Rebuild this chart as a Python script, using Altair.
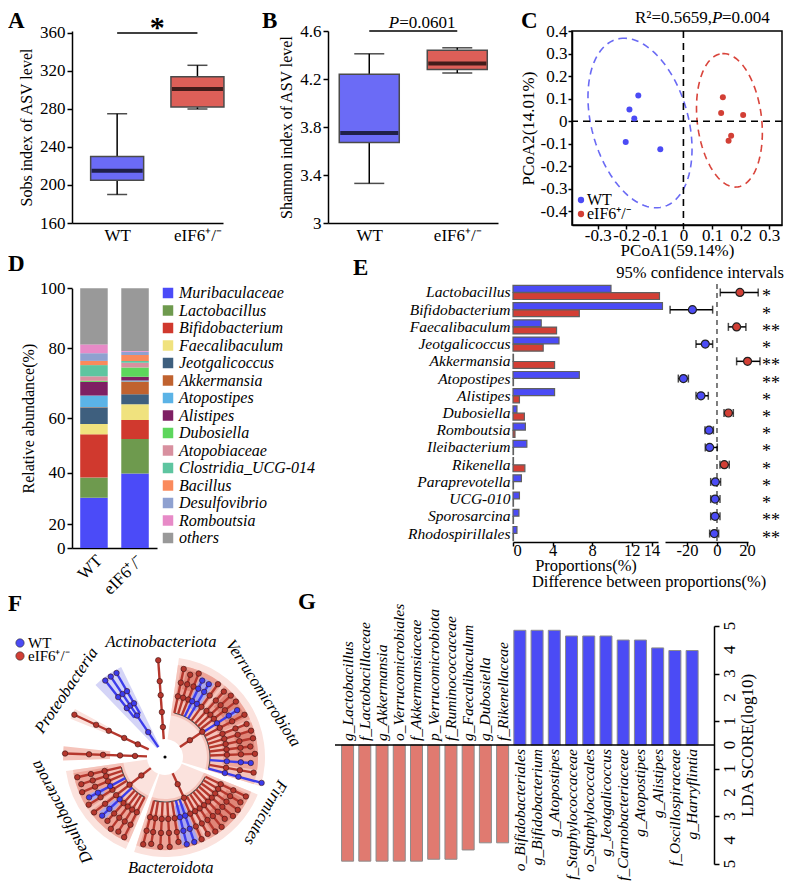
import math
import altair as alt
import numpy as np
import pandas as pd

FONT = "Liberation Serif"
KO = "eIF6\u207a/\u207b"

# ======================= DATA =======================
groups = ["WT", KO]

# A  Sobs index (box summaries)
sobs_lo = [190, 280]
sobs_q1 = [205, 282]
sobs_med = [215, 301]
sobs_q3 = [230, 314]
sobs_hi = [275, 326]

# B  Shannon index (box summaries)
shan_lo = [3.33, 4.25]
shan_q1 = [3.67, 4.28]
shan_med = [3.75, 4.33]
shan_q3 = [4.24, 4.44]
shan_hi = [4.41, 4.46]

# C  PCoA
pc_wt_x = [-0.158, -0.189, -0.172, -0.202, -0.081]
pc_wt_y = [0.114, 0.052, 0.012, -0.092, -0.124]
pc_ko_x = [0.138, 0.132, 0.209, 0.167, 0.158]
pc_ko_y = [0.106, 0.037, 0.028, -0.064, -0.086]
ell_group = ["WT", "eIF6"]
ell_cx = [-0.152, 0.161]
ell_cy = [-0.008, 0.004]
ell_a = [0.381, 0.297]
ell_b = [0.171, 0.113]
ell_ux = [-0.184, -0.084]
ell_uy = [0.983, 0.996]

# D  relative abundance
taxa = ["Muribaculaceae", "Lactobacillus", "Bifidobacterium", "Faecalibaculum",
        "Jeotgalicoccus", "Akkermansia", "Atopostipes", "Alistipes", "Dubosiella",
        "Atopobiaceae", "Clostridia_UCG-014", "Bacillus", "Desulfovibrio",
        "Romboutsia", "others"]
abund_wt = [30.3, 7.8, 16.0, 3.8, 5.2, 0.1, 3.3, 3.9, 0.3, 1.3, 3.2, 1.2, 2.2, 2.7, 18.7]
abund_ko = [39.7, 12.7, 7.0, 4.6, 2.9, 3.6, 0.3, 1.1, 2.6, 1.4, 0.5, 1.7, 0.9, 0.2, 20.8]

# E  extended error bar
e_taxa = ["Lactobacillus", "Bifidobacterium", "Faecalibaculum", "Jeotgalicoccus",
          "Akkermansia", "Atopostipes", "Alistipes", "Dubosiella", "Romboutsia",
          "Ileibacterium", "Rikenella", "Paraprevotella", "UCG-010", "Sporosarcina",
          "Rhodospirillales"]
prop_wt = [9.9, 15.1, 2.85, 4.65, 0.05, 6.7, 4.2, 0.4, 1.25, 1.4, 0.05, 0.85, 0.65, 0.6, 0.4]
prop_ko = [14.8, 6.7, 4.4, 3.05, 4.2, 0.05, 0.65, 1.15, 0.2, 0.05, 1.2, 0.05, 0.05, 0.05, 0.05]
diff_mean = [15.3, -16.4, 13.1, -7.8, 20.4, -22.4, -10.7, 7.6, -5.3, -4.9, 4.9, -1.1, -1.3, -1.3, -1.8]
diff_lo = [2.2, -31.3, 7.6, -14.0, 13.1, -25.8, -14.0, 4.7, -8.0, -7.8, 2.0, -4.2, -4.2, -4.2, -4.9]
diff_hi = [27.5, -2.9, 19.3, -2.9, 28.7, -19.1, -5.8, 10.9, -2.4, 0.2, 8.2, 2.4, 2.0, 2.0, 1.1]
diff_sig = ["*", "*", "**", "*", "**", "**", "*", "*", "*", "*", "*", "*", "*", "**", "**"]
diff_group = ["eIF6", "WT", "eIF6", "WT", "eIF6", "WT", "WT", "eIF6", "WT", "WT",
              "eIF6", "WT", "WT", "WT", "WT"]

# G  LEfSe LDA scores
lda_ko_names = ["g_Lactobacillus", "f_Lactobacillaceae", "g_Akkermansia",
                "o_Verrucomicrobiales", "f_Akkermansiaceae", "p_Verrucomicrobiota",
                "f_Ruminococcaceae", "g_Faecalibaculum", "g_Dubosiella", "f_Rikenellaceae"]
lda_ko = [4.88, 4.88, 4.88, 4.88, 4.88, 4.80, 4.80, 4.41, 4.11, 4.11]
lda_wt_names = ["o_Bifidobacteriales", "g_Bifidobacterium", "g_Atopostipes",
                "f_Staphylococcaceae", "o_Staphylococcales", "g_Jeotgalicoccus",
                "f_Carnobacteriaceae", "g_Atopostipes", "g_Alistipes",
                "f_Oscillospiraceae", "g_Harryflintia"]
lda_wt = [4.82, 4.82, 4.82, 4.58, 4.58, 4.58, 4.41, 4.41, 4.08, 3.97, 3.97]
lda_ticks = [-5, -4, -3, -2, -1, 0, 1, 2, 3, 4, 5]

# F  cladogram (angles clockwise from top, radii as fraction of outer ring)
blk_t0 = [8, 8, 10, 40, 68, 14, 44, 72, 24, 55,
          112, 112, 114, 154, 118, 158,
          203, 203, 205, 236, 224, 239,
          268, 292, 316]
blk_t1 = [107, 107, 38, 66, 98, 22, 64, 88, 34, 59,
          198, 198, 152, 196, 148, 169,
          262, 262, 234, 260, 230, 244,
          276, 298, 334]
blk_r0 = [0.18, 0.42, 0.58, 0.58, 0.58, 0.70, 0.70, 0.72, 0.55, 0.72,
          0.18, 0.42, 0.58, 0.58, 0.70, 0.50,
          0.18, 0.42, 0.58, 0.58, 0.66, 0.70,
          0.55, 0.62, 0.12]
blk_r1 = [1.0, 0.93, 0.93, 0.93, 0.93, 0.90, 0.90, 0.90, 0.88, 0.86,
          1.0, 0.93, 0.93, 0.93, 0.90, 0.90,
          1.0, 0.93, 0.93, 0.93, 0.86, 0.86,
          1.02, 1.02, 1.0]
blk_shade = ["r0", "r1", "r2", "r2", "r2", "r3", "r3", "r3", "b1", "b1",
             "r0", "r1", "r2", "r2", "r3", "b1",
             "r0", "r1", "r2", "r2", "b1", "b1",
             "r1", "r0", "b0"]

leaf_theta = [12, 17, 22, 26, 31, 36, 42, 47, 52, 57, 62, 68, 73, 78, 83, 88, 94, 100, 105,
              116, 121, 126, 131, 136, 141, 146, 151, 156, 161, 166, 171, 177, 183, 189, 194,
              207, 212, 217, 222, 227, 232, 238, 242, 247, 252, 257,
              272, 295, 322, 326, 330, 356]
leaf_r0 = [0.45, 0.45, 0.45, 0.45, 0.45, 0.45, 0.45, 0.45, 0.45, 0.45, 0.45, 0.45, 0.45, 0.45, 0.45, 0.45, 0.45, 0.45, 0.45,
           0.45, 0.45, 0.45, 0.45, 0.45, 0.45, 0.45, 0.45, 0.45, 0.45, 0.45, 0.45, 0.45, 0.45, 0.45, 0.45,
           0.45, 0.45, 0.45, 0.45, 0.45, 0.45, 0.45, 0.45, 0.45, 0.45, 0.45,
           0.18, 0.18, 0.50, 0.50, 0.50, 0.18]
leaf_r1 = [0.90, 0.86, 0.90, 0.85, 0.85, 0.90, 0.88, 0.90, 0.90, 0.86, 0.90, 0.88, 0.90, 0.90, 0.86, 0.90, 0.86, 0.90, 1.0,
           0.90, 0.88, 0.90, 0.90, 0.86, 0.90, 0.90, 0.88, 0.90, 0.90, 0.90, 0.86, 0.90, 0.90, 0.88, 0.90,
           0.90, 0.88, 0.90, 0.86, 0.86, 0.90, 0.90, 0.86, 0.90, 0.88, 0.90,
           1.0, 1.0, 0.97, 0.97, 0.97, 0.97]
leaf_group = ["K", "K", "K", "W", "W", "K", "K", "K", "K", "W", "K", "K", "K", "K", "K", "K", "W", "K", "W",
              "K", "K", "K", "K", "K", "K", "K", "K", "K", "W", "W", "K", "K", "K", "K", "K",
              "K", "K", "K", "K", "W", "K", "K", "W", "K", "K", "K",
              "K", "K", "W", "W", "W", "K"]
stem_theta = [56, 155, 232, 326]
stem_r0 = [0.18, 0.18, 0.18, 0.12]
stem_r1 = [0.45, 0.45, 0.45, 0.50]
stem_group = ["K", "K", "K", "W"]
conn_t0 = [12, 116, 207, 322]
conn_t1 = [105, 194, 257, 330]
conn_r = [0.45, 0.45, 0.45, 0.50]
node_levels = [0.30, 0.45, 0.62, 0.76]

ph_names = ["Actinobacteriota", "Verrucomicrobiota", "Firmicutes", "Bacteroidota",
            "Desulfobacterota", "Proteobacteria"]
ph_theta = [358, 57, 119, 177, 242, 304]
ph_r = [1.15, 1.17, 1.15, 1.11, 1.17, 1.19]
ph_rot = [0, 57, 119, 0, 242, 304]

# ======================= STYLE =======================
BLUE = "#4B4BF5"
RED = "#D23F35"
GROUP_COL = {"WT": BLUE, "eIF6": RED}
BOX_COL = {"WT": "#6B6BF6", "eIF6": "#DD5F58"}
ELL_COL = {"WT": "#6A6AF4", "eIF6": "#D9443B"}
TAXA_COL = ["#4B4BF8", "#6E9A4E", "#D0392E", "#F0E27E", "#3E5F7E", "#C0622F",
            "#5BB3E6", "#7E1F63", "#5DD65C", "#D8909F", "#5EC5A0", "#FA8A5C",
            "#8FA1D0", "#E78AC7", "#999999"]
SHADES = {"r0": "#FBE2DD", "r1": "#F5C4BB", "r2": "#EDA498", "r3": "#E08678",
          "b0": "#D4D4F7", "b1": "#ABA6EC"}
LINE_COL = {"K": "#B5372D", "W": "#3C3CEB"}


def letter(ch, x, y):
    return alt.Chart(pd.DataFrame({"t": [ch]})).mark_text(
        font=FONT, fontSize=23, fontWeight="bold", align="left", baseline="top", color="black"
    ).encode(text="t:N", x=alt.value(x), y=alt.value(y))


def anchor(y):
    # invisible point that fixes the vertical extent of a row
    return alt.Chart(pd.DataFrame({"a": [0]})).mark_point(opacity=0, size=1, strokeWidth=0).encode(
        x=alt.value(0), y=alt.value(y))


def minus_fix(fmt):
    return "replace(format(datum.value, '" + fmt + "'), '\u2212', '-')"


def spacer(w):
    return alt.Chart(pd.DataFrame({"a": [0]})).mark_point(opacity=0, size=1, strokeWidth=0).encode(
        x=alt.value(0), y=alt.value(0)).properties(width=w, height=1)


# ======================= A & B =======================
def box_panel(lo, q1, med, q3, hi, xdom, ydom, yvals, yfmt, ytitle, boxw, capw):
    df = pd.DataFrame({"i": [0, 1], "lo": lo, "q1": q1, "med": med, "q3": q3, "hi": hi})
    df["fill"] = [BOX_COL["WT"], BOX_COL["eIF6"]]
    xs = alt.Scale(domain=xdom, nice=False, zero=False)
    ys = alt.Scale(domain=ydom, nice=False, zero=False)
    xax = alt.Axis(values=[0, 1], labelExpr="datum.value == 0 ? 'WT' : '" + KO + "'",
                   title=None, ticks=False, labelFontSize=17, labelPadding=4)
    yax = alt.Axis(values=yvals, format=yfmt, title=ytitle, labelFontSize=17,
                   labelPadding=2, titlePadding=5, titleFontSize=16)

    def X(f):
        return alt.X(f, type="quantitative", scale=xs, axis=xax)

    def Y(f):
        return alt.Y(f, type="quantitative", scale=ys, axis=yax)

    base = alt.Chart(df)
    whisk = base.mark_rule(color="black", strokeWidth=1.5).encode(x=X("i"), y=Y("lo"), y2="hi:Q")
    cap_lo = base.mark_tick(orient="horizontal", color="black", thickness=1.5, size=capw).encode(x=X("i"), y=Y("lo"))
    cap_hi = base.mark_tick(orient="horizontal", color="black", thickness=1.5, size=capw).encode(x=X("i"), y=Y("hi"))
    box = base.mark_bar(size=boxw, stroke="#4a4a4a", strokeWidth=1.5).encode(
        x=X("i"), y=Y("q1"), y2="q3:Q", color=alt.Color("fill:N", scale=None))
    medl = base.mark_tick(orient="horizontal", color="black", thickness=4, size=boxw - 2).encode(x=X("i"), y=Y("med"))
    return [whisk, cap_lo, cap_hi, box, medl], X, Y


layersA, XA, YA = box_panel(sobs_lo, sobs_q1, sobs_med, sobs_q3, sobs_hi,
                            [-0.5, 1.256], [160, 362.1], [160, 200, 240, 280, 320, 360], "d",
                            "Sobs index of ASV level", 53, 20)
sigA = pd.DataFrame({"x0": [0], "x1": [1], "xm": [0.5], "y": [360], "t": ["*"]})
sigA_rule = alt.Chart(sigA).mark_rule(color="black", strokeWidth=1.5).encode(x=XA("x0"), x2="x1:Q", y=YA("y"))
sigA_txt = alt.Chart(sigA).mark_text(fontSize=30, fontWeight="bold", baseline="alphabetic", dy=4).encode(
    x=XA("xm"), y=YA("y"), text="t:N")
panelA = alt.layer(*layersA, sigA_rule, sigA_txt, letter("A", -64, -21), anchor(250)).properties(
    width=151, height=192)

layersB, XB, YB = box_panel(shan_lo, shan_q1, shan_med, shan_q3, shan_hi,
                            [-0.412, 1.406], [3.0, 4.6], [3.0, 3.4, 3.8, 4.2, 4.6], "~g",
                            "Shannon index of ASV level", 60, 30)
sigB = pd.DataFrame({"x0": [0], "x1": [1], "xm": [0.5], "y": [4.6], "p": ["P"], "v": ["=0.0601"]})
sigB_rule = alt.Chart(sigB).mark_rule(color="black", strokeWidth=1.5).encode(x=XB("x0"), x2="x1:Q", y=YB("y"))
sigB_p = alt.Chart(sigB).mark_text(fontSize=17, fontStyle="italic", align="right", baseline="alphabetic",
                                   dx=-14, dy=-3).encode(x=XB("xm"), y=YB("y"), text="p:N")
sigB_v = alt.Chart(sigB).mark_text(fontSize=17, align="left", baseline="alphabetic",
                                   dx=-14, dy=-3).encode(x=XB("xm"), y=YB("y"), text="v:N")
panelB = alt.layer(*layersB, sigB_rule, sigB_p, sigB_v, letter("B", -66, -21)).properties(width=170, height=192)

# ======================= C =======================
pcdf = pd.DataFrame({"x": pc_wt_x + pc_ko_x, "y": pc_wt_y + pc_ko_y,
                     "g": ["WT"] * len(pc_wt_x) + ["eIF6"] * len(pc_ko_x)})
pcdf["col"] = pcdf["g"].map(GROUP_COL)
t_par = np.linspace(0, 2 * np.pi, 121)
ell_frames = []
for g, cx, cy, a, b, ux, uy in zip(ell_group, ell_cx, ell_cy, ell_a, ell_b, ell_ux, ell_uy):
    vx, vy = uy, -ux
    ell_frames.append(pd.DataFrame({
        "x": cx + a * np.cos(t_par) * ux + b * np.sin(t_par) * vx,
        "y": cy + a * np.cos(t_par) * uy + b * np.sin(t_par) * vy,
        "k": np.arange(len(t_par)), "g": g, "col": ELL_COL[g]}))
elldf = pd.concat(ell_frames, ignore_index=True)

cxs = alt.Scale(domain=[-0.39, 0.345], nice=False, zero=False)
cys = alt.Scale(domain=[-0.46, 0.40], nice=False, zero=False)
cxax = alt.Axis(values=[-0.3, -0.2, -0.1, 0, 0.1, 0.2, 0.3], labelExpr=minus_fix(".1~f"),
                title="PCoA1(59.14%)", labelFontSize=17, titleFontSize=17, tickSize=4,
                labelPadding=-2, titlePadding=-1)
cyax = alt.Axis(values=[-0.4, -0.3, -0.2, -0.1, 0, 0.1, 0.2, 0.3, 0.4], labelExpr=minus_fix(".1~f"),
                title="PCoA2(14.01%)", labelFontSize=17, titleFontSize=17, tickSize=4,
                labelPadding=1, titlePadding=3)
CX = alt.X("x:Q", scale=cxs, axis=cxax)
CY = alt.Y("y:Q", scale=cys, axis=cyax)
c_ell = alt.Chart(elldf).mark_line(strokeDash=[7, 5], strokeWidth=1.6).encode(
    x=CX, y=CY, detail="g:N", order="k:Q", color=alt.Color("col:N", scale=None))
c_v0 = alt.Chart(pd.DataFrame({"z": [0]})).mark_rule(color="black", strokeDash=[7, 5], strokeWidth=1.6).encode(
    x=alt.X("z:Q", scale=cxs, axis=cxax))
c_h0 = alt.Chart(pd.DataFrame({"z": [0]})).mark_rule(color="black", strokeDash=[7, 5], strokeWidth=1.6).encode(
    y=alt.Y("z:Q", scale=cys, axis=cyax))
c_pts = alt.Chart(pcdf).mark_circle(size=36, opacity=1).encode(x=CX, y=CY, color=alt.Color("col:N", scale=None))
leg_c = pd.DataFrame({"lab": ["WT", KO], "col": [BLUE, RED], "py": [169, 183]})
c_leg_pt = alt.Chart(leg_c).mark_circle(size=40, opacity=1).encode(
    x=alt.value(9), y=alt.Y("py:Q", scale=None), color=alt.Color("col:N", scale=None))
c_leg_tx = alt.Chart(leg_c).mark_text(fontSize=16, align="left", baseline="middle").encode(
    x=alt.value(15), y=alt.Y("py:Q", scale=None), text="lab:N")
c_t1 = alt.Chart(pd.DataFrame({"t": ["R\u00b2=0.5659, "]})).mark_text(
    fontSize=17, align="right", baseline="alphabetic").encode(x=alt.value(140), y=alt.value(-8), text="t:N")
c_t2 = alt.Chart(pd.DataFrame({"t": ["P"]})).mark_text(
    fontSize=17, fontStyle="italic", align="left", baseline="alphabetic").encode(x=alt.value(140), y=alt.value(-8), text="t:N")
c_t3 = alt.Chart(pd.DataFrame({"t": ["=0.004"]})).mark_text(
    fontSize=17, align="left", baseline="alphabetic").encode(x=alt.value(150), y=alt.value(-8), text="t:N")
panelC = alt.layer(c_ell, c_v0, c_h0, c_pts, c_leg_pt, c_leg_tx, c_t1, c_t2, c_t3, letter("C", -51, -21)).properties(
    width=210, height=194, view=alt.ViewBackground(stroke="black", strokeWidth=1.5))

# ======================= D =======================
d_rows = []
for s, vals in ((groups[0], abund_wt), (groups[1], abund_ko)):
    for k, (tx, v) in enumerate(zip(taxa, vals)):
        d_rows.append({"sample": s, "taxon": tx, "k": k, "v": v})
ddf = pd.DataFrame(d_rows)
d_bars = alt.Chart(ddf).mark_bar().encode(
    x=alt.X("sample:N", sort=groups, scale=alt.Scale(domain=groups, paddingInner=0.33, paddingOuter=0.2),
            axis=alt.Axis(title=None, labelAngle=315, ticks=False, labelFontSize=17, labelPadding=4)),
    y=alt.Y("v:Q", stack="zero",
            scale=alt.Scale(domain=[0, 20, 40, 60, 80, 100], range=[264, 240.3, 188.7, 134.3, 64.3, 4.3],
                            nice=False, zero=False),
            axis=alt.Axis(values=[0, 20, 40, 60, 80, 100], title="Relative abundance(%)", labelFontSize=17,
                          labelPadding=2, titlePadding=3, titleFontSize=16)),
    color=alt.Color("taxon:N", sort=taxa, scale=alt.Scale(domain=taxa, range=TAXA_COL),
                    legend=alt.Legend(title=None, orient="none", legendX=88, legendY=1, symbolType="square",
                                      symbolSize=110, symbolStrokeWidth=0, labelFont=FONT,
                                      labelFontStyle="italic", labelFontSize=16, labelOffset=3,
                                      rowPadding=1.5, padding=0, labelLimit=220, labelColor="black")),
    order=alt.Order("k:Q", sort="ascending"),
)
panelD = alt.layer(d_bars, letter("D", -64, -31), anchor(-40), anchor(320)).properties(width=85, height=264)

# ======================= E =======================
e_rows = []
for tx, w, k in zip(e_taxa, prop_wt, prop_ko):
    e_rows.append({"taxon": tx, "grp": "WT", "v": w})
    e_rows.append({"taxon": tx, "grp": "eIF6", "v": k})
edf = pd.DataFrame(e_rows)
edf["col"] = edf["grp"].map(GROUP_COL)
e_yscale = alt.Scale(domain=e_taxa, paddingInner=0.18, paddingOuter=0.08)
e_bars = alt.Chart(edf).mark_bar(stroke="#606060", strokeWidth=1.2).encode(
    y=alt.Y("taxon:N", sort=e_taxa, scale=e_yscale,
            axis=alt.Axis(title=None, ticks=False, domain=False, labelFontStyle="italic",
                          labelFontSize=15.5, labelPadding=3, labelLimit=220)),
    yOffset=alt.YOffset("grp:N", sort=["WT", "eIF6"], scale=alt.Scale(domain=["WT", "eIF6"], paddingInner=0.05)),
    x=alt.X("v:Q", scale=alt.Scale(domain=[0, 14.65], nice=False, zero=False),
            axis=alt.Axis(values=[0, 4, 8, 12, 14], title="Proportions(%)", labelFontSize=16.5,
                          titleFontSize=16.5, labelPadding=-4, titlePadding=-1, tickSize=4)),
    color=alt.Color("col:N", scale=None),
)
panelE1 = alt.layer(e_bars, letter("E", -160, -27)).properties(width=145, height=258)

cidf = pd.DataFrame({"taxon": e_taxa, "m": diff_mean, "lo": diff_lo, "hi": diff_hi,
                     "sig": diff_sig, "g": diff_group})
cidf["col"] = cidf["g"].map(GROUP_COL)
ciY = alt.Y("taxon:N", sort=e_taxa, scale=e_yscale, axis=None)
ci_xs = alt.Scale(domain=[-34.7, 20.7], nice=False, zero=False)
ci_ax = alt.Axis(values=[-20, 0, 20], labelExpr=minus_fix("d"), title=None, labelFontSize=16.5,
                 labelPadding=-4, tickSize=4)


def CIX(f):
    return alt.X(f, type="quantitative", scale=ci_xs, axis=ci_ax)


ci_zero = alt.Chart(pd.DataFrame({"z": [0]})).mark_rule(color="#555555", strokeDash=[5, 4], strokeWidth=1.5).encode(
    x=CIX("z"))
ci_err = alt.Chart(cidf).mark_rule(color="black", strokeWidth=1.5).encode(x=CIX("lo"), x2="hi:Q", y=ciY)
ci_cap_lo = alt.Chart(cidf).mark_tick(color="black", thickness=1.5, size=8).encode(x=CIX("lo"), y=ciY)
ci_cap_hi = alt.Chart(cidf).mark_tick(color="black", thickness=1.5, size=8).encode(x=CIX("hi"), y=ciY)
ci_dot = alt.Chart(cidf).mark_circle(size=64, stroke="#222222", strokeWidth=1.2, opacity=1).encode(
    x=CIX("m"), y=ciY, fill=alt.Fill("col:N", scale=None))
ci_sig = alt.Chart(cidf).mark_text(fontSize=18, align="left", baseline="middle", dy=5).encode(
    x=alt.value(97), y=ciY, text="sig:N")
ci_head = alt.Chart(pd.DataFrame({"t": ["95% confidence intervals"]})).mark_text(
    fontSize=16.5, align="right", baseline="middle").encode(x=alt.value(119), y=alt.value(-11), text="t:N")
ci_foot = alt.Chart(pd.DataFrame({"t": ["Difference between proportions(%)"]})).mark_text(
    fontSize=16.5, align="center", baseline="middle").encode(x=alt.value(-16), y=alt.value(298), text="t:N")
panelE2 = alt.layer(ci_zero, ci_err, ci_cap_lo, ci_cap_hi, ci_dot, ci_sig, ci_head, ci_foot).properties(
    width=83, height=258)

# ======================= F =======================
fx = alt.Scale(domain=[-0.93, 1.2], nice=False, zero=False)
fy = alt.Scale(domain=[-1.21, 1.31], nice=False, zero=False)
theta_sc = alt.Scale(domain=[0, 360], range=[0, 2 * math.pi])
rad_sc = alt.Scale(type="linear", domain=[0, 1], range=[0, 100], zero=True)

blk = pd.DataFrame({"t0": blk_t0, "t1": blk_t1, "r0": blk_r0, "r1": blk_r1, "shade": blk_shade})
blk["col"] = blk["shade"].map(SHADES)
f_arcs = alt.Chart(blk).mark_arc(strokeWidth=0).encode(
    x=alt.XDatum(0, type="quantitative", scale=fx, axis=None),
    y=alt.YDatum(0, type="quantitative", scale=fy, axis=None),
    theta=alt.Theta("t0:Q", scale=theta_sc, stack=None),
    theta2=alt.Theta2("t1:Q"),
    radius=alt.Radius("r1:Q", scale=rad_sc),
    radius2=alt.Radius2("r0:Q"),
    color=alt.Color("col:N", scale=None),
)
conn = pd.DataFrame({"t0": conn_t0, "t1": conn_t1, "r": conn_r})
conn["ro"] = conn["r"] + 0.006
conn["ri"] = conn["r"] - 0.006
f_conn = alt.Chart(conn).mark_arc(color="#4a4a4a").encode(
    x=alt.XDatum(0, type="quantitative", scale=fx, axis=None),
    y=alt.YDatum(0, type="quantitative", scale=fy, axis=None),
    theta=alt.Theta("t0:Q", scale=theta_sc, stack=None),
    theta2=alt.Theta2("t1:Q"),
    radius=alt.Radius("ro:Q", scale=rad_sc),
    radius2=alt.Radius2("ri:Q"),
)
lines = pd.concat([
    pd.DataFrame({"t": leaf_theta, "r0": leaf_r0, "r1": leaf_r1, "g": leaf_group}),
    pd.DataFrame({"t": stem_theta, "r0": stem_r0, "r1": stem_r1, "g": stem_group}),
], ignore_index=True)
rad = np.deg2rad(lines["t"])
lines["x0"] = lines["r0"] * np.sin(rad)
lines["y0"] = lines["r0"] * np.cos(rad)
lines["x1"] = lines["r1"] * np.sin(rad)
lines["y1"] = lines["r1"] * np.cos(rad)
lines["col"] = lines["g"].map(LINE_COL)
f_lines = alt.Chart(lines).mark_rule(strokeWidth=2.4).encode(
    x=alt.X("x0:Q", scale=fx, axis=None), y=alt.Y("y0:Q", scale=fy, axis=None),
    x2="x1:Q", y2="y1:Q", color=alt.Color("col:N", scale=None))
dots = []
for _, row in lines.iterrows():
    levels = [lv for lv in node_levels if row.r0 < lv < row.r1 - 0.05] + [row.r1]
    for lv in levels:
        a = math.radians(row.t)
        dots.append({"x": lv * math.sin(a), "y": lv * math.cos(a), "col": row.col})
dotdf = pd.DataFrame(dots)
f_dots = alt.Chart(dotdf).mark_circle(size=30, opacity=1, stroke="#3a1010", strokeWidth=0.6).encode(
    x=alt.X("x:Q", scale=fx, axis=None), y=alt.Y("y:Q", scale=fy, axis=None),
    fill=alt.Fill("col:N", scale=None))
f_center = alt.Chart(pd.DataFrame({"x": [0], "y": [0]})).mark_circle(size=10, color="black", opacity=1).encode(
    x=alt.X("x:Q", scale=fx, axis=None), y=alt.Y("y:Q", scale=fy, axis=None))
phdf = pd.DataFrame({"name": ph_names, "t": ph_theta, "r": ph_r, "rot": ph_rot})
phdf["x"] = phdf["r"] * np.sin(np.deg2rad(phdf["t"]))
phdf["y"] = phdf["r"] * np.cos(np.deg2rad(phdf["t"]))
f_labels = alt.Chart(phdf).mark_text(fontSize=16.5, fontStyle="italic", align="center", baseline="middle").encode(
    x=alt.X("x:Q", scale=fx, axis=None), y=alt.Y("y:Q", scale=fy, axis=None),
    text="name:N", angle=alt.Angle("rot:Q", scale=None))
leg_f = pd.DataFrame({"lab": ["WT", KO], "col": [BLUE, RED], "py": [17, 30]})
f_leg_pt = alt.Chart(leg_f).mark_circle(size=70, opacity=1, stroke="#333333", strokeWidth=0.6).encode(
    x=alt.value(-52), y=alt.Y("py:Q", scale=None), fill=alt.Fill("col:N", scale=None))
f_leg_tx = alt.Chart(leg_f).mark_text(fontSize=15, align="left", baseline="middle").encode(
    x=alt.value(-44), y=alt.Y("py:Q", scale=None), text="lab:N")
panelF = alt.layer(f_arcs, f_conn, f_lines, f_dots, f_center, f_labels, f_leg_pt, f_leg_tx,
                   letter("F", -64, -33), anchor(-45)).properties(width=213, height=252)

# ======================= G =======================
gdf = pd.DataFrame({
    "idx": list(range(len(lda_ko) + len(lda_wt))),
    "name": lda_ko_names + lda_wt_names,
    "v": [-v for v in lda_ko] + lda_wt,
    "grp": ["eIF6"] * len(lda_ko) + ["WT"] * len(lda_wt),
})
gdf["col"] = gdf["grp"].map({"eIF6": "#E07A70", "WT": BLUE})
g_ys = alt.Scale(domain=[-5, 5], nice=False, zero=False)
gX = alt.X("idx:Q", scale=alt.Scale(domain=[-0.44, 20.98], nice=False, zero=False), axis=None)
gY = alt.Y("v:Q", scale=g_ys,
           axis=alt.Axis(orient="right", values=lda_ticks, labels=False,
                         title="LDA SCORE(log10)", titleAngle=270, titleBaseline="middle",
                         titleAlign="center", titleX=33, titleY=119, titleFontSize=17))
g_bars = alt.Chart(gdf).mark_bar(size=12, stroke="#8c8c8c", strokeWidth=1).encode(
    x=gX, y=gY, y2=alt.datum(0), color=alt.Color("col:N", scale=None))
g_zero = alt.Chart(pd.DataFrame({"z": [0]})).mark_rule(color="black", strokeWidth=1.5).encode(y=alt.datum(0))
tick_df = pd.DataFrame({"t": lda_ticks})
tick_df["lab"] = tick_df["t"].abs().astype(str)
g_ticklab = alt.Chart(tick_df).mark_text(angle=270, align="center", baseline="middle", fontSize=17).encode(
    x=alt.value(379 + 16), y=alt.Y("t:Q", scale=g_ys), text="lab:N")
g_lab_ko = alt.Chart(gdf[gdf["grp"] == "eIF6"]).mark_text(
    angle=270, align="left", baseline="middle", dx=4, fontStyle="italic", fontSize=15.5).encode(
    x=gX, y=alt.datum(0), text="name:N")
g_lab_wt = alt.Chart(gdf[gdf["grp"] == "WT"]).mark_text(
    angle=270, align="right", baseline="middle", dx=-4, fontStyle="italic", fontSize=15.5).encode(
    x=gX, y=alt.datum(0), text="name:N")
panelG = alt.layer(g_bars, g_zero, g_ticklab, g_lab_ko, g_lab_wt, letter("G", -37, -35)).properties(
    width=379, height=238)

# ======================= LAYOUT =======================
row1 = alt.hconcat(panelA, spacer(105), panelB, spacer(74), panelC, spacing=0, bounds="flush")
row2 = alt.hconcat(panelD, spacer(356), panelE1, spacer(7), panelE2, spacing=0,
                   bounds="flush").resolve_scale(color="independent")
row3 = alt.hconcat(panelF, spacer(50), panelG, spacing=0, bounds="flush")
upper = alt.vconcat(row1, row2, spacing=-39).resolve_scale(color="independent")
chart = (
    alt.vconcat(upper, row3, spacing=-25)
    .resolve_scale(color="independent")
    .properties(padding=0)
    .configure_view(stroke=None)
    .configure_axis(labelFont=FONT, titleFont=FONT, labelColor="black", titleColor="black",
                    domainColor="black", tickColor="black", grid=False, titleFontWeight="normal",
                    labelFontSize=16, titleFontSize=16, domainWidth=1.5, tickWidth=1.5, tickSize=5)
    .configure_text(font=FONT, color="black")
)
chart.save("out.html", embed_options={"renderer": "svg", "actions": False})
